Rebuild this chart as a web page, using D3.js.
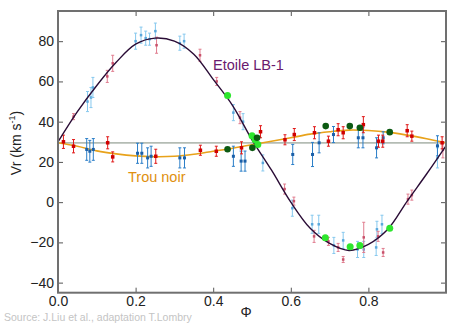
<!DOCTYPE html>
<html><head><meta charset="utf-8">
<script src="https://cdn.jsdelivr.net/npm/d3@7/dist/d3.min.js"></script>
<style>body{margin:0;background:#fff}svg{display:block}</style>
</head><body>
<svg id="c" width="458" height="324"></svg>
<script>
// ---- data ----
const curvePhase = [0,0.05,0.1,0.15,0.2,0.25,0.3,0.35,0.4,0.45,0.5,0.55,0.6,0.65,0.7,0.75,0.8,0.85,0.9,0.95,1.0];
const starCurve  = [30,45,58,69.5,78.5,81.5,80,73.5,61,48,31,16,0,-13,-20.5,-24,-21,-13.5,0.5,14,28];
const holeCurve  = [29.5,27.8,25.5,24,23,22.6,22.8,23.8,25.3,26.8,28.5,30.3,32,33.8,35,35.8,35.6,34.8,33.3,31.5,29.5];
const systemicV  = 29.5;
const xTicks = [0,0.2,0.4,0.6,0.8];
const yTicks = [-40,-20,0,20,40,60,80];
// [phase, Vr, error]
const lightBlue = [[0.076,50,5],[0.085,52,5],[0.09,57,5],[0.2,80,4],[0.214,83,4],[0.226,81.5,3.5],[0.236,81,3],[0.251,85,4],
  [0.314,79,3.5],[0.325,80,3.5],[0.452,44.5,4],[0.477,40,4],[0.528,19.5,4],[0.604,-3,4],[0.655,-11,4.5],[0.672,-11,4.5],
  [0.711,-21.5,4],[0.735,-19,4],[0.772,-23.5,4],[0.788,-23.5,4],[0.82,-22.5,4],[0.822,-13.5,4],[0.835,-11,4.5],[0.978,22,5]];
const pink = [[0.04,42.5,1.5],[0.127,62.5,3],[0.141,69,4],[0.254,78,4],[0.366,73,3],[0.409,60,2],[0.469,42,3],[0.584,6.5,2.5],
  [0.608,0.5,2],[0.66,-17,3],[0.697,-19.5,2],[0.722,-22.5,2],[0.735,-28.5,1.5],[0.788,-17.5,7.5],[0.825,-17,2.5],
  [0.838,-25,2],[0.902,1.5,2.5],[0.912,3.5,2.5],[0.992,26,4]];
const green = [[0.437,53],[0.5,33],[0.508,31],[0.515,28.7],[0.689,-17.7],[0.753,-22.2],[0.778,-21.5],[0.855,-13]];
const darkGreen = [[0.437,26.3],[0.501,27],[0.513,32],[0.69,37.8],[0.752,37.8],[0.778,37],[0.855,34.8]];
const red = [[0.014,30,3.3],[0.04,27.8,3.3],[0.128,29.5,3],[0.141,22.5,2.5],[0.252,22.8,3.5],[0.367,25.8,2.5],[0.408,25.3,2.5],
  [0.473,27,3],[0.522,35,3],[0.585,31,2.5],[0.609,33.6,3],[0.661,34.5,3],[0.697,30.3,2.5],[0.722,36,3],[0.735,34.5,3],
  [0.787,38.5,4],[0.826,30.3,3],[0.837,30.3,3],[0.9,35.5,3],[0.912,32.8,2.5],[0.99,29.5,3]];
const blue = [[0.074,26.2,5.4],[0.082,25.3,5.4],[0.091,26.2,5.4],[0.205,24.3,5],[0.216,24.3,5],[0.231,22,5],[0.24,22.8,5],
  [0.314,22,5],[0.326,22,5],[0.452,22.8,5],[0.472,20.4,5],[0.482,20.4,5],[0.605,23.7,5],[0.656,23.7,6],[0.673,29.5,5],
  [0.71,33.6,4],[0.774,32,5],[0.786,32,5],[0.821,27,5],[0.838,32,3],[0.978,28,5]];

// ---- chart ----
const svg = d3.select("#c");
const L=58, R=446, T=11, B=292.7;
const x = d3.scaleLinear().domain([0,1]).range([L,R]);
const y = d3.scaleLinear().domain([-45,95]).range([B,T]);
const font = "'Liberation Sans', Arial, sans-serif";

// gray systemic line
svg.append("line").attr("x1",x(0)).attr("x2",x(1)).attr("y1",y(systemicV)).attr("y2",y(systemicV))
  .attr("stroke","#b4bcb4").attr("stroke-width",1.8);

const line = d3.line().x((d,i)=>x(curvePhase[i])).y(d=>y(d)).curve(d3.curveCatmullRom);
svg.append("path").attr("d",line(holeCurve)).attr("fill","none").attr("stroke","#e8a21a").attr("stroke-width",1.6);

function errSeries(data, col, ptCol, sz){
  const g = svg.append("g");
  data.forEach(d=>{
    const cx=x(d[0]), y1=y(d[1]-d[2]), y2=y(d[1]+d[2]);
    g.append("line").attr("x1",cx).attr("x2",cx).attr("y1",y1).attr("y2",y2).attr("stroke",col).attr("stroke-width",1);
    [y1,y2].forEach(yy=>g.append("line").attr("x1",cx-1.5).attr("x2",cx+1.5).attr("y1",yy).attr("y2",yy).attr("stroke",col).attr("stroke-width",1));
    g.append("rect").attr("x",cx-sz/2).attr("y",y(d[1])-sz/2).attr("width",sz).attr("height",sz).attr("fill",ptCol);
  });
}
errSeries(lightBlue,"#86c8ee","#5aa8dc",2.5);
errSeries(pink,"#e07c8e","#c8506a",2.5);
errSeries(blue,"#2a7ec8","#1a5fa8",3);
errSeries(red,"#e01818","#d00000",3.5);

svg.append("path").attr("d",line(starCurve)).attr("fill","none").attr("stroke","#2a0c36").attr("stroke-width",1.4);

svg.append("g").selectAll("circle").data(green).join("circle")
  .attr("cx",d=>x(d[0])).attr("cy",d=>y(d[1])).attr("r",3.5).attr("fill","#2ee62e");
svg.append("g").selectAll("circle").data(darkGreen).join("circle")
  .attr("cx",d=>x(d[0])).attr("cy",d=>y(d[1])).attr("r",3.3).attr("fill","#0c5a12");

// axes
const fmtY = d=>d<0 ? "\u2212"+Math.abs(d) : String(d);
const gx = svg.append("g").attr("transform",`translate(0,${B})`)
  .call(d3.axisBottom(x).tickValues(xTicks).tickSize(-5).tickPadding(3.5).tickFormat(d3.format(".1f")));
const gxt = svg.append("g").attr("transform",`translate(0,${T})`)
  .call(d3.axisTop(x).tickValues(xTicks).tickSize(-5).tickFormat(""));
const gy = svg.append("g").attr("transform",`translate(${L},0)`)
  .call(d3.axisLeft(y).tickValues(yTicks).tickSize(-5).tickPadding(4).tickFormat(fmtY));
const gyr = svg.append("g").attr("transform",`translate(${R},0)`)
  .call(d3.axisRight(y).tickValues(yTicks).tickSize(-5).tickFormat(""));
[gx,gxt,gy,gyr].forEach(g=>{
  g.select(".domain").remove();
  g.selectAll(".tick line").attr("stroke","#555").attr("stroke-width",1);
  g.selectAll("text").attr("font-family",font).attr("font-size",14).attr("fill","#222");
});
svg.append("rect").attr("x",L).attr("y",T).attr("width",R-L).attr("height",B-T)
  .attr("fill","none").attr("stroke","#707070").attr("stroke-width",2);

// labels
const yl = svg.append("text").attr("transform","translate(21,143) rotate(-90)").attr("text-anchor","middle")
  .attr("font-family",font).attr("font-size",14).attr("fill","#222");
yl.append("tspan").text("Vr (km s");
yl.append("tspan").attr("font-size",9).attr("dy",-6).text("-1");
yl.append("tspan").attr("dy",6).text(")");
svg.append("text").attr("x",246).attr("y",317).attr("text-anchor","middle").attr("font-family",font)
  .attr("font-size",14).attr("fill","#222").text("\u03A6");
svg.append("text").attr("x",213).attr("y",70).attr("font-family",font).attr("font-size",14.5).attr("fill","#6a1a6e").text("Etoile LB-1");
svg.append("text").attr("x",128).attr("y",182).attr("font-family",font).attr("font-size",14.5).attr("fill","#e0900f").text("Trou noir");
svg.append("text").attr("x",4).attr("y",320.5).attr("font-family",font).attr("font-size",10.5).attr("fill","#c4c4c4")
  .text("Source: J.Liu et al., adaptation T.Lombry");
</script>
</body></html>
